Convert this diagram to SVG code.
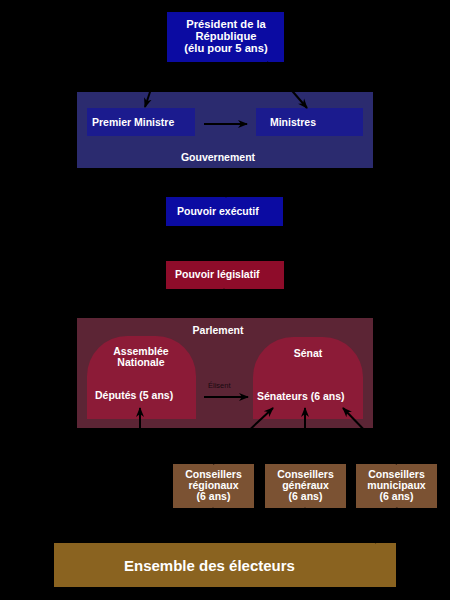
<svg xmlns="http://www.w3.org/2000/svg" width="450" height="600" viewBox="0 0 450 600">
<defs>
<marker id="ah" viewBox="0 0 10 10" refX="9" refY="5" markerWidth="5" markerHeight="5" orient="auto" markerUnits="strokeWidth"><path d="M0,1 L10,5 L0,9 L3,5 z" fill="#000"/></marker>
<style>
.t{font-family:"Liberation Sans",Arial,sans-serif;font-weight:bold;fill:#fff;font-size:10.5px}
.c{text-anchor:middle}
.big{font-size:11.2px}
.blue{fill:#0b0ba2}
.gov{fill:#2b2b6f}
.min{fill:#1b1b8e}
.leg{fill:#8e0c2a}
.par{fill:#5c2535}
.dome{fill:#8c1b37}
.cons{fill:#7b5233}
.elec{fill:#8a6320}
.a{stroke:#000;stroke-width:2;fill:none;marker-end:url(#ah)}
</style>
</defs>
<rect width="450" height="600" fill="#000"/>
<g id="president"><rect class="blue" x="167" y="12" width="117" height="50"/>
<text class="t c big" x="226" y="28">Président de la</text>
<text class="t c big" x="226" y="40">République</text>
<text class="t c big" x="226" y="52">(élu pour 5 ans)</text></g>
<g id="gouvernement"><rect class="gov" x="77" y="92" width="296" height="76"/>
<text class="t c" x="218" y="161">Gouvernement</text></g>
<g id="premier-ministre"><rect class="min" x="87" y="108" width="108" height="28"/>
<text class="t" x="92" y="126">Premier Ministre</text></g>
<g id="ministres"><rect class="min" x="256" y="108" width="107" height="28"/>
<text class="t c" x="293" y="126">Ministres</text></g>
<g id="pouvoir-executif"><rect class="blue" x="166" y="197" width="117" height="29"/>
<text class="t" x="177" y="215">Pouvoir exécutif</text></g>
<g id="pouvoir-legislatif"><rect class="leg" x="166" y="261" width="118" height="28"/>
<text class="t" x="175" y="278">Pouvoir législatif</text></g>
<g id="parlement"><rect class="par" x="77" y="318" width="296" height="110"/>
<text class="t c" x="218" y="334">Parlement</text></g>
<g id="assemblee"><path class="dome" d="M87,419 V376 A40,40 0 0 1 127,336 H156 A40,40 0 0 1 196,376 V419 Z"/>
<text class="t c" x="141" y="355">Assemblée</text>
<text class="t c" x="141" y="366">Nationale</text>
<text class="t" x="95" y="399">Députés (5 ans)</text></g>
<g id="senat"><path class="dome" d="M253,419 V377 A40,40 0 0 1 293,337 H323 A40,40 0 0 1 363,377 V419 Z"/>
<text class="t c" x="308" y="357">Sénat</text>
<text class="t" x="257" y="400">Sénateurs (6 ans)</text></g>
<g id="conseillers-regionaux"><rect class="cons" x="173" y="464" width="81" height="44"/>
<text class="t c" x="213.5" y="478">Conseillers</text>
<text class="t c" x="213.5" y="489">régionaux</text>
<text class="t c" x="213.5" y="500">(6 ans)</text></g>
<g id="conseillers-generaux"><rect class="cons" x="265" y="464" width="81" height="44"/>
<text class="t c" x="305.5" y="478">Conseillers</text>
<text class="t c" x="305.5" y="489">généraux</text>
<text class="t c" x="305.5" y="500">(6 ans)</text></g>
<g id="conseillers-municipaux"><rect class="cons" x="356" y="464" width="81" height="44"/>
<text class="t c" x="396.5" y="478">Conseillers</text>
<text class="t c" x="396.5" y="489">municipaux</text>
<text class="t c" x="396.5" y="500">(6 ans)</text></g>
<g id="electeurs"><rect class="elec" x="54" y="543" width="342" height="44"/>
<text class="t" x="124" y="571" style="font-size:15px">Ensemble des électeurs</text></g>
<g id="connectors">
<line class="a" x1="160" y1="62" x2="145" y2="107"/>
<line class="a" x1="267" y1="62" x2="307" y2="108"/>
<line class="a" x1="204" y1="124" x2="247" y2="124"/>
<line class="a" x1="226" y1="168" x2="226" y2="197"/>
<line class="a" x1="224" y1="318" x2="224" y2="289"/>
<line class="a" x1="204" y1="397" x2="248" y2="397"/>
<text x="208" y="388" style="font-family:'Liberation Sans',Arial,sans-serif;font-size:7.5px;fill:#1a0a10">Élisent</text>
<line class="a" x1="140" y1="543" x2="140" y2="408"/>
<line class="a" x1="213" y1="464" x2="273" y2="408"/>
<line class="a" x1="305" y1="464" x2="305" y2="408"/>
<line class="a" x1="397" y1="464" x2="343" y2="408"/>
<line class="a" x1="213" y1="543" x2="213" y2="508"/>
<line class="a" x1="305" y1="543" x2="305" y2="508"/>
<line class="a" x1="375" y1="543" x2="397" y2="508"/>
</g>
</svg>
